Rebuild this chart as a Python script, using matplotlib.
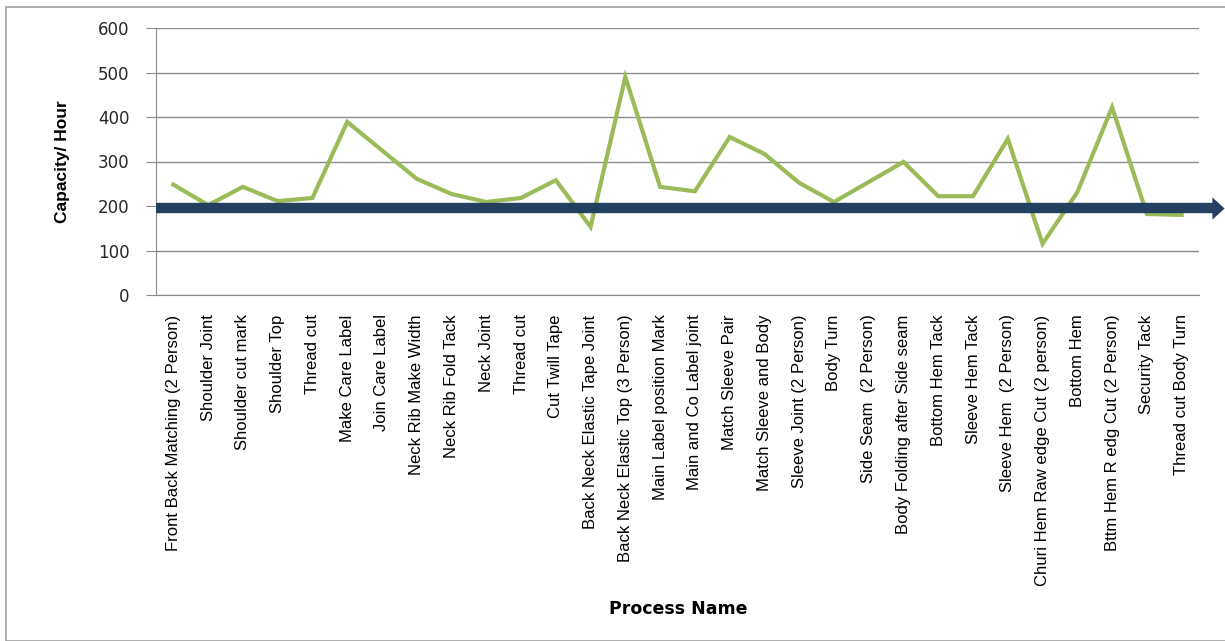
import matplotlib
matplotlib.use("Agg")
import matplotlib.pyplot as plt
from matplotlib.patches import Rectangle
from matplotlib.path import Path
import matplotlib.transforms as mtransforms

processes = [
    "Front Back Matching (2 Person)", "Shoulder Joint", "Shoulder cut mark",
    "Shoulder Top", "Thread cut", "Make Care Label", "Join Care Label",
    "Neck Rib Make Width", "Neck Rib Fold Tack", "Neck Joint", "Thread cut",
    "Cut Twill Tape", "Back Neck Elastic Tape Joint",
    "Back Neck Elastic Top (3 Person)", "Main Label position Mark",
    "Main and Co Label joint", "Match Sleeve Pair", "Match Sleeve and Body",
    "Sleeve Joint (2 Person)", "Body Turn", "Side Seam  (2 Person)",
    "Body Folding after Side seam", "Bottom Hem Tack", "Sleeve Hem Tack",
    "Sleeve Hem  (2 Person)", "Churi Hem Raw edge Cut (2 person)", "Bottom Hem",
    "Bttm Hem R edg Cut (2 Person)", "Security Tack", "Thread cut Body Turn",
]
capacity = [248, 202, 243, 211, 218, 389, 325, 261, 227, 209, 218, 258, 153,
            490, 243, 233, 355, 317, 252, 209, 254, 299, 222, 222, 351, 115,
            231, 422, 182, 180]
target = 196

green = "#9BBB59"
navy = "#243F60"
grid_c = "#8C8C8C"
narrow = ["Liberation Sans", "DejaVu Sans"]

fig = plt.figure(figsize=(12.25, 6.41), dpi=100)
fig.patches.append(Rectangle((6 / 1225, 0), 1.2, 1 - 7 / 641, transform=fig.transFigure,
                             fill=False, edgecolor="#A0A0A0", linewidth=1.2))
ax = fig.add_axes([156 / 1225, 1 - 295 / 641, (1199 - 156) / 1225, (295 - 28) / 641])

x = list(range(len(processes)))
ax.plot(x, capacity, color=green, linewidth=3, solid_joinstyle="miter", zorder=3)

# target arrow (runs past the plot area like the original)
trans = mtransforms.blended_transform_factory(ax.transAxes, ax.transData)
ax.plot([0, 1.0135], [target, target], transform=trans, color=navy, linewidth=7.5,
        solid_capstyle="butt", clip_on=False, zorder=4)
head = Path([(-0.55, 1), (0.55, 0), (-0.55, -1), (-0.55, 1)],
            [Path.MOVETO, Path.LINETO, Path.LINETO, Path.CLOSEPOLY])
ax.plot([1.0185], [target], transform=trans, marker=head, markersize=16,
        color=navy, markeredgewidth=0, clip_on=False, zorder=4)

ax.set_xlim(-0.5, len(processes) - 0.5)
ax.set_ylim(0, 600)
ax.set_yticks(range(0, 601, 100))
ax.yaxis.grid(True, color=grid_c, linewidth=1)
ax.set_axisbelow(True)
ax.set_xticks(x)
ax.set_xticklabels(processes, rotation=90, fontsize=12, family=narrow)
ax.tick_params(axis="x", length=0, pad=14)
ax.tick_params(axis="y", length=7.2, color=grid_c, labelsize=12, pad=12)
for lbl in ax.get_yticklabels():
    lbl.set_color("#262626")

for s in ["top", "right"]:
    ax.spines[s].set_visible(False)
ax.spines["left"].set_color(grid_c)
ax.spines["bottom"].set_color(grid_c)

ax.set_ylabel("Capacity/ Hour", fontsize=12.5, fontweight="bold", family=narrow,
              labelpad=20)
fig.text(678 / 1225, 1 - 609 / 641, "Process Name", ha="center", va="center",
         fontsize=12.5, fontweight="bold")

fig.savefig("out.png", dpi=100)
